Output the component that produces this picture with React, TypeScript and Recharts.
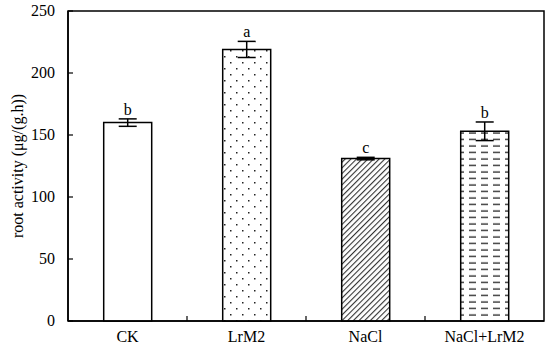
import React from 'react';
import { BarChart, Bar, XAxis, YAxis, ErrorBar, LabelList, ReferenceArea } from 'recharts';

const groups = ['CK', 'LrM2', 'NaCl', 'NaCl+LrM2'];
const activity = [160, 219, 131, 153];
const errors = [3, 6.5, 1, 7.5];
const letters = ['b', 'a', 'c', 'b'];
const fills = ['#ffffff', 'url(#dots)', 'url(#hatch)', 'url(#dashes)'];
const yTicks = [0, 50, 100, 150, 200, 250];

const data = groups.map((g, i) => ({ group: g, value: activity[i], err: errors[i], letter: letters[i], fill: fills[i] }));

const font = '"Liberation Serif", "Times New Roman", serif';

const YTick = (props: any) => {
  const { x, y, payload } = props;
  return (
    <g>
      <line x1={x} x2={x + 5} y1={y} y2={y} stroke="#000" strokeWidth={1.2} />
      <text x={x - 13} y={y} dy={5} textAnchor="end" fontFamily={font} fontSize={16} fill="#000">
        {payload.value}
      </text>
    </g>
  );
};

const XTick = (props: any) => {
  const { x, y, payload, index } = props;
  const half = payload.offset ?? 0;
  return (
    <g>
      {index < groups.length - 1 && (
        <line x1={x + half} x2={x + half} y1={y} y2={y - 5} stroke="#000" strokeWidth={1.2} />
      )}
      <text x={x} y={y} dy={21} textAnchor="middle" fontFamily={font} fontSize={16} fill="#000">
        {payload.value}
      </text>
    </g>
  );
};

const Letter = (props: any) => {
  const { x, y, width, height, index, value } = props;
  const d = data[index];
  const errPx = d.value ? (d.err * height) / d.value : 0;
  return (
    <text x={x + width / 2} y={y - errPx - 4} textAnchor="middle" fontFamily={font} fontSize={16} fill="#000">
      {value}
    </text>
  );
};

const YLabel = (props: any) => {
  const { viewBox } = props;
  const cy = viewBox.y + viewBox.height / 2;
  return (
    <text x={18} y={cy} transform={`rotate(-90, 18, ${cy})`} dy={5} textAnchor="middle" fontFamily={font} fontSize={16} fill="#000">
      root activity (μg/(g.h))
    </text>
  );
};

export default function App() {
  return (
    <div style={{ position: 'absolute', left: 0, top: 0, width: 550, height: 351, background: '#fff' }}>
      <svg width={0} height={0} style={{ position: 'absolute' }}>
        <defs>
          <pattern id="dots" width={12} height={12} patternUnits="userSpaceOnUse">
            <rect width={12} height={12} fill="#fff" />
            <rect x={2} y={2} width={1.5} height={1.5} fill="#222" />
            <rect x={8} y={8} width={1.5} height={1.5} fill="#222" />
          </pattern>
          <pattern id="hatch" width={4} height={4} patternUnits="userSpaceOnUse" patternTransform="rotate(45)">
            <rect width={4} height={4} fill="#fff" />
            <line x1={0} y1={0} x2={0} y2={4} stroke="#333" strokeWidth={2.2} />
          </pattern>
          <pattern id="dashes" width={12} height={6.5} patternUnits="userSpaceOnUse">
            <rect width={12} height={6.5} fill="#fff" />
            <line x1={1} y1={3} x2={8} y2={3} stroke="#222" strokeWidth={1.3} />
          </pattern>
        </defs>
      </svg>
      <BarChart
        width={550}
        height={351}
        data={data}
        margin={{ top: 11, right: 6, bottom: 0, left: 0 }}
        barCategoryGap="30%"
      >
        <XAxis
          dataKey="group"
          height={30}
          tickSize={0}
          tickMargin={0}
          tickLine={false}
          axisLine={{ stroke: '#000', strokeWidth: 1.5 }}
          tick={<XTick />}
          interval={0}
        />
        <YAxis
          width={68}
          domain={[0, 250]}
          ticks={yTicks}
          tickSize={0}
          tickMargin={0}
          tickLine={false}
          axisLine={{ stroke: '#000', strokeWidth: 1.5 }}
          tick={<YTick />}
          label={<YLabel />}
        />
        <Bar dataKey="value" stroke="#000" strokeWidth={1.5} isAnimationActive={false}>
          <ErrorBar dataKey="err" width={9} stroke="#000" strokeWidth={1.5} />
          <LabelList dataKey="letter" content={<Letter />} />
        </Bar>
        <ReferenceArea y1={0} y2={250} fill="none" stroke="#000" strokeWidth={1.5} ifOverflow="visible" />
      </BarChart>
    </div>
  );
}
